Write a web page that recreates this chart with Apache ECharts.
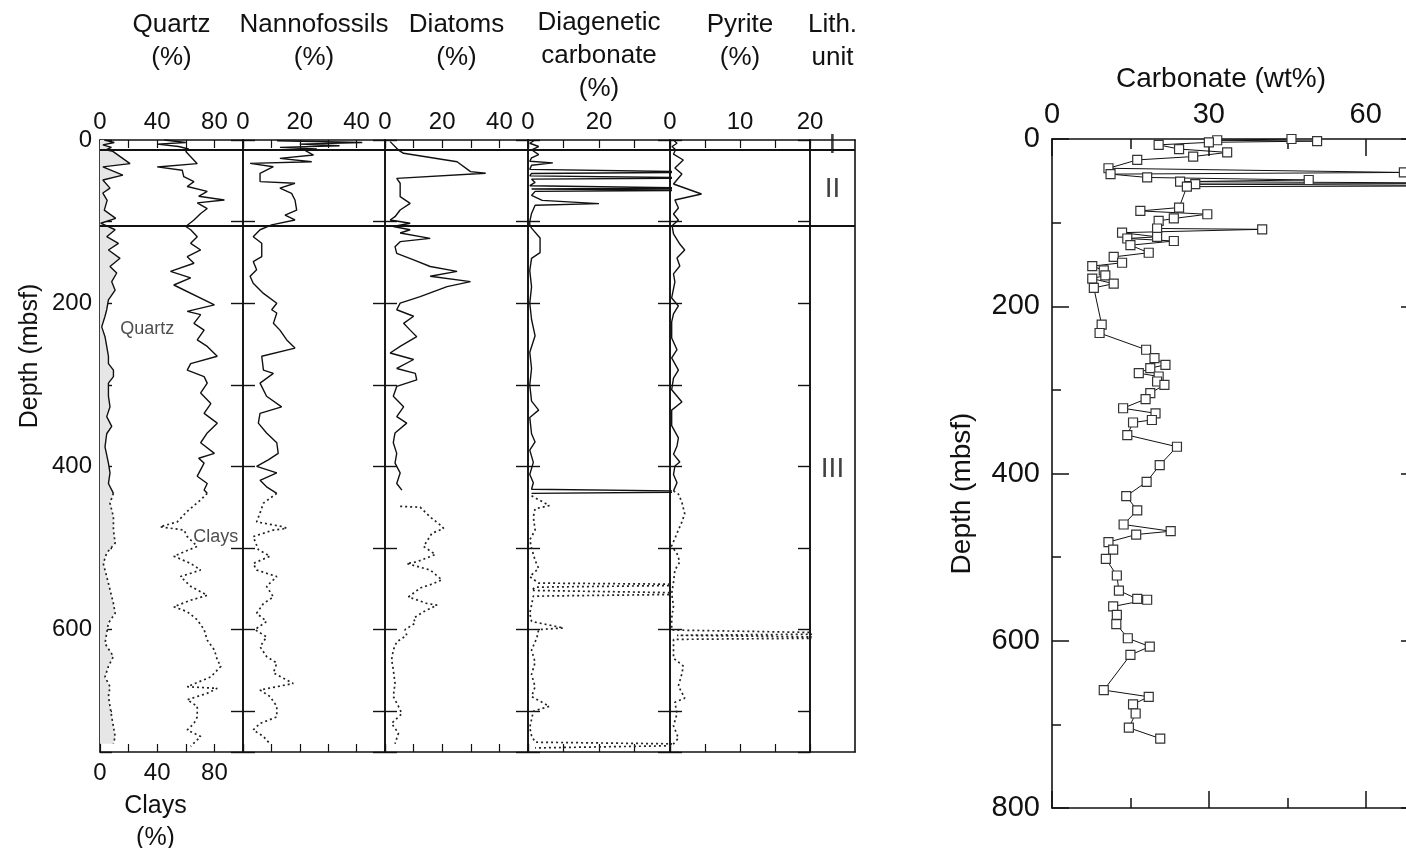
<!DOCTYPE html>
<html><head><meta charset="utf-8">
<script src="https://cdn.jsdelivr.net/npm/echarts@6/dist/echarts.min.js"></script>
<style>html,body{margin:0;padding:0;background:#fff}#c{width:1406px;height:848px}</style>
</head><body><div id="c"></div>
<script>
// ---------- DATA: [value, depth (mbsf)] ----------
const quartzSolid = [[3,0],[10,3],[2,6],[8,9],[4,12],[9,14],[21,29],[2,33],[16,43],[2,49],[7,59],[2,65],[5,74],[3,86],[11,96],[0.5,102],
 [10.6,110],[4.7,118.5],[12.9,126.6],[5.9,134.8],[14,145],[7,155],[11.7,163],[8.2,173.6],[10.6,184],[5.9,196],[4.7,208],[3.5,216],[1.2,229],[3.5,241],[4.7,253],[5.9,265],[5.9,274],[9.4,282],[9.4,290],[5.9,298],[5.9,314],[7,327],[4.7,339],[8.2,351],[4.7,360],[3.5,376],[5.9,396],[7,408],[5.9,421],[9.4,433]];
const quartzDotted = [[9.4,433],[7,445],[9.4,462],[9.4,478],[10.6,494],[4.7,506],[2.3,519],[4.7,535],[7,551],[9.4,568],[10.6,580],[5.9,592],[4.7,604],[3.5,617],[9.4,633],[5.9,645],[3.5,658],[7,670],[5.9,682],[7,694],[8.2,707],[9.4,719],[10.6,731],[9.4,740]];
const claysSolid = [[45,0],[60,3],[40,5],[55,8],[62,11],[60,14],[68,29],[40,33],[57.5,37],[58.6,45],[65.7,51],[61,57],[75,63],[69,69],[87,73.5],[68,77],[75,84],[70.4,90],[65.7,98],[60,106],
 [63.4,110],[68,118.5],[63.4,126.6],[70.4,134.8],[61,143],[65.7,151],[49.3,161],[63.4,169],[51.6,177.7],[80,202],[61,210],[70.4,214],[65.7,224.7],[72.8,233],[68,245],[75,253],[82,265],[63.4,274],[61,282],[72.8,290],[75,298],[70.4,310],[77.5,323],[72.8,335],[82,347],[75,359],[70.4,371],[80,384],[69,390],[72.8,396],[68,412],[75,421],[72.8,429],[75,433]];
const claysDotted = [[75,433],[70.4,441],[61,455],[54,468],[42,474],[58.7,478],[61,486],[68,498],[51.6,510],[63.4,519],[70.4,527],[56.3,535],[63.4,547],[75,558],[63.4,564],[51.6,572],[61,578],[68,588],[72.8,600],[75,613],[80,625],[82,637],[84.5,645],[77.5,658],[61,670],[82,672],[75,678],[61,686],[68,694],[68,707],[65.7,715],[61,723],[70.4,731],[63.4,743]];
const nannoSolid = [[12,1],[42,3],[20,5],[34,7],[13,9],[26,11],[22,13],[24.8,18.4],[13,22.5],[24.2,26.6],[2.5,28.6],[10.7,32.7],[6,40.8],[6,51],[18.3,53],[13,59],[17.1,65.4],[18.3,73.5],[18.9,86],[14.8,92],[18.3,98],[10.1,104],[10.7,106],
 [6,110],[3.6,118.5],[6.6,126.6],[6.6,143],[3.6,149],[4.8,159],[2.5,167],[3.6,175.6],[7.2,188],[11.9,200],[10.1,208],[11.9,212],[10.7,224.7],[13,233],[15.4,245],[18.3,255],[6.6,265],[7.2,282],[10.7,286],[6,298],[8.3,314],[13.6,327],[6,335],[5.4,347],[8.3,359],[11.9,371],[12.4,384],[8.9,392],[4.8,400],[11.9,408],[6,417],[8.3,425],[11.9,433]];
const nannoDotted = [[11.9,433],[7.2,445],[6,457],[4.8,468],[14.2,474],[15.4,476],[10.7,478],[3.6,486],[5.4,502],[9.5,510],[3.6,519],[4.8,527],[11.9,535],[8.3,547],[10.7,560],[7.2,568],[4.8,580],[8.3,590],[4.2,600],[8.3,609],[6,621],[8.3,633],[11.9,641],[10.7,653],[17.7,666],[6,674],[9.5,682],[11.9,694],[11.9,707],[6,715],[3.6,723],[7.2,731],[9.5,740]];
const diatomSolid = [[1.8,2],[4.7,12.3],[6.5,16.3],[25.2,26.6],[29.9,38.8],[35.2,40.8],[4.1,47],[5.3,53],[5.3,69.4],[8.8,77.6],[5.3,85.8],[3.5,94],[1.8,98],[8.8,102],[2.9,106],
 [8.8,110],[5.3,114],[15.8,120.5],[5.3,124.6],[3.5,130.7],[4.1,138.9],[10,147],[15.8,155],[25.2,161],[15.8,167],[29.9,173.6],[21.7,179.7],[12.3,192],[5.3,200],[4.1,208],[10,216],[6.5,224.7],[8.8,233],[11.1,241],[5.3,253],[1.8,261],[10,269],[4.1,280],[10.6,286],[11.1,294],[4.1,302],[2.9,314],[6.5,327],[4.1,339],[7.6,347],[3.5,359],[2.9,371],[4.1,384],[3.5,396],[5.3,408],[4.1,421],[5.9,429]];
const diatomDotted = [[5.3,449],[12.3,450],[15.8,462],[19.4,472],[20.5,476],[16.4,482],[13.5,498],[17.6,508],[11.1,517],[7.6,519],[15.8,527],[19.9,539],[15.8,545],[12.3,549],[8.2,560],[14.7,568],[18.2,570],[13.5,578],[10,586],[10.6,592],[7,600],[7.6,607],[4.1,615],[2.9,625],[2.3,637],[2.9,649],[3.5,666],[2.9,682],[4.7,694],[5.9,703],[2.3,715],[4.7,727],[3.5,740]];
const diagSolid = [[2,0],[0.5,4],[3,8],[1,12],[0.5,14],[3,18],[1,22],[0.5,26],[7,28],[1,31],[0.5,36],[1,38],[55,39.5],[1,41],[0.5,44],[50,46.5],[1,48],[2,52],[0.5,56],[50,59],[1,60],[55,61.5],[2,63],[1,68],[4,74],[20,78],[2,80],[1,90],[0.5,100],[0.5,104],
 [1,108],[3.4,120],[3.4,138],[1,145],[0.5,160],[1,180],[0.5,200],[1,220],[2,240],[0.5,260],[1,280],[0.5,300],[1,320],[3,331],[0.5,340],[1,360],[2,370],[0.5,380],[1.5,395],[0.5,410],[1.5,420],[1,428],[60,431],[1,433]];
const diagDotted = [[1,436],[6,448],[2,452],[1.5,462],[2,478],[0.5,490],[1,500],[2,515],[3,525],[0.5,535],[3,543],[60,545],[2,548],[1,552],[60,556],[1.5,559],[1,570],[0.5,580],[1,590],[10,598],[3,600],[2.5,610],[1,625],[2,640],[1,655],[2,670],[1,682],[6,694],[1.5,700],[1,710],[0.5,720],[1,730],[2,738],[60,741],[2,745]];
const pyriteSolid = [[0.5,0],[1,4],[0.3,8],[0.8,12],[0.5,17.2],[1.9,24.5],[0.7,34.3],[1.7,41.7],[0.5,53.9],[4.5,66.2],[0.7,73.5],[1.2,83.3],[0.5,90.7],[1.2,98],[0.3,105],
 [0.5,115],[1.4,127.5],[2.1,134.8],[1,144.6],[1.4,154.4],[0.5,164],[0.7,174],[0.24,193.6],[1.2,203.4],[0.5,213],[0.24,223],[0.24,242.6],[1,257],[0.24,267],[1.2,282],[0.5,291.7],[0.24,306],[1.7,321],[0.24,331],[0.24,350],[1.2,365],[1,375],[0.5,385],[1.4,394.6],[0.7,399.5],[0.5,410],[1,420],[0.5,430]];
const pyriteDotted = [[0.5,430],[1.2,434],[1.7,444],[2.1,458],[1.7,468],[1.2,478],[0.24,497.5],[1,507],[1.4,517],[0.7,527],[0.5,541.7],[0.24,556],[0.5,571],[0.24,586],[0.24,600.5],[30,605],[1,607],[30,610],[0.5,612],[0.5,635],[1.9,644.6],[1.7,654],[1.2,669],[2.1,684],[0.7,689],[1,703],[0.5,718],[1.2,733],[0.24,742.6]];
const carbonate = [[45.8,0],[31.6,1.5],[50.7,2.5],[30,4],[20.4,7],[24.3,12],[33.5,16],[27,21],[16.3,25],[10.8,35],[67.3,40],[11.2,42],[18.2,46],[49.1,49],[24.5,51],[90,53],[27.4,54],[90,56],[25.8,57],
 [24.3,82],[16.9,86],[29.7,90],[23.3,95],[20.4,98],[20.1,107],[40.2,108],[13.4,112],[20.1,117],[14.4,119],[23.3,122],[15,127],[18.5,136],[11.8,141],[13.4,148],[7.7,152],[9.9,157],[10.2,163],[7.7,167],[11.8,173],[8,178],[9.5,222],[9.1,232],
 [18,252],[19.6,262],[21.7,270],[18.8,274],[16.6,280],[20.4,284],[20.1,290],[21.5,294],[18.8,304],[17.9,311],[13.6,322],[19.8,328],[19.1,336],[15.5,339],[14.4,354],[23.9,368],[20.6,390],[18.1,410],[14.2,427],[16.3,444],[13.7,461],[22.7,469],[16.1,473],[10.8,482],[11.7,491],[10.3,502],[12.4,522],[12.8,540],[16.3,550],[18.2,551],[11.7,559],[12.4,569],[12.3,580],[14.5,597],[18.7,607],[15,617],[9.9,659],[18.5,667],[15.5,676],[16,687],[14.7,704],[20.7,717]];
const unitBoundaries = [12, 105];
const lithUnits = [[0.5, 6, 'I'], [0.5, 61, 'II'], [0.5, 404, 'III']];
const curveLabels = [[33, 232, 'Quartz'], [81, 486, 'Clays']];
const panelNames = ['Quartz\n(%)', 'Nannofossils\n(%)', 'Diatoms\n(%)', 'Diagenetic\ncarbonate\n(%)', 'Pyrite\n(%)', 'Lith.\nunit'];
const panelMax = [100, 50, 50, 40, 20, 1];
const panelStep = [20, 10, 10, 10, 5, 1];
const panelTickLabels = [[0,40,80],[0,20,40],[0,20,40],[0,20],[0,10,20],[]];
const clayTickLabels = [0,40,80];
const depthTickLabels = [0,200,400,600];
const carbTickLabels = [0,30,60];
const carbDepthLabels = [0,200,400,600,800];

// ---------- LAYOUT ----------
const FONT = '"Liberation Sans", Arial, sans-serif';
const INK = '#111';
const lefts = [100, 243, 385, 528, 670, 810];
const widths = [143, 142, 143, 142, 140, 45];
const nameGaps = [66, 66, 66, 35, 66, 66];
const TOP = 140, H = 612;

const grid = [], xAxis = [], yAxis = [], series = [];
const axLine = {show:true, onZero:false, lineStyle:{color:INK, width:1.6}};
const noLine = {show:false, onZero:false};
for (let i = 0; i < 6; i++) {
  grid.push({left: lefts[i], top: TOP, width: widths[i], height: H, outerBoundsMode:'none'});
  const ticks = i < 5;
  xAxis.push({type:'value', gridIndex:i, position:'top', min:0, max:panelMax[i], interval:panelStep[i],
    name: panelNames[i], nameLocation:'middle', nameGap: nameGaps[i],
    nameTextStyle:{fontFamily:FONT, fontSize:26, lineHeight:33, color:INK},
    axisLine: axLine, splitLine:{show:false},
    axisTick:{show:ticks, inside:true, length:8, lineStyle:{color:INK, width:1.2}},
    axisLabel:{show:ticks, margin:6, fontFamily:FONT, fontSize:24, color:INK,
      formatter: v => panelTickLabels[i].includes(v) ? String(v) : ''}});
  xAxis.push({type:'value', gridIndex:i, position:'bottom', min:0, max:panelMax[i], interval:panelStep[i],
    name: i === 0 ? 'Clays\n(%)' : '', nameLocation:'middle', nameGap:28,
    nameTextStyle:{fontFamily:FONT, fontSize:25, lineHeight:32, color:INK, padding:[0,32,0,0]},
    axisLine: axLine, splitLine:{show:false},
    axisTick:{show:ticks, inside:true, length:8, lineStyle:{color:INK, width:1.2}},
    axisLabel:{show:i === 0, margin:9, fontFamily:FONT, fontSize:24, color:INK,
      formatter: v => clayTickLabels.includes(v) ? String(v) : ''}});
  yAxis.push({type:'value', gridIndex:i, position:'left', inverse:true, min:0, max:750, interval:100,
    name: i === 0 ? 'Depth (mbsf)' : '', nameLocation:'middle', nameGap:57, nameRotate:90,
    nameTextStyle:{fontFamily:FONT, fontSize:25, color:INK, padding:[0,0,0,180]},
    axisLine: axLine, splitLine:{show:false},
    axisTick:{show:ticks, inside:true, length:12, lineStyle:{color:INK, width:1.4}},
    axisLabel:{show:i === 0, margin:8, fontFamily:FONT, fontSize:24, color:INK,
      formatter: v => depthTickLabels.includes(v) ? String(v) : ''}});
  yAxis.push({type:'value', gridIndex:i, position:'right', inverse:true, min:0, max:750, interval:100,
    axisLine: axLine, splitLine:{show:false},
    axisTick:{show:ticks, inside:true, length:12, lineStyle:{color:INK, width:1.4}},
    axisLabel:{show:false}});
}

function curve(data, i, dotted) {
  return {type:'line', xAxisIndex:2*i, yAxisIndex:2*i, data: data, symbol:'none', showSymbol:false,
    clip:true, z:3, silent:true,
    lineStyle:{color: dotted ? '#222' : INK, width: dotted ? 1.7 : 1.4, type: dotted ? [2,3] : 'solid'}};
}
function boundaries() {
  return {silent:true, symbol:'none', label:{show:false},
    lineStyle:{color:INK, width:1.8, type:'solid'},
    data: unitBoundaries.map(d => ({yAxis:d}))};
}

// quartz fill
series.push({type:'custom', xAxisIndex:0, yAxisIndex:0, data:[[0,0]], z:1, silent:true,
  renderItem: (params, api) => {
    const all = quartzSolid.concat(quartzDotted);
    const pts = [api.coord([0, all[0][1]])];
    all.forEach(p => pts.push(api.coord(p)));
    pts.push(api.coord([0, all[all.length-1][1]]));
    return {type:'polygon', shape:{points:pts}, style:{fill:'#e6e6e6'}};
  }});
const s0 = curve(quartzSolid, 0, false); s0.markLine = boundaries(); series.push(s0);
series.push(curve(quartzDotted, 0, true), curve(claysSolid, 0, false), curve(claysDotted, 0, true));
series.push({type:'scatter', xAxisIndex:0, yAxisIndex:0, data: curveLabels, symbolSize:1,
  itemStyle:{color:'rgba(0,0,0,0)'}, silent:true, z:5,
  label:{show:true, position:'inside', formatter: p => p.value[2], fontFamily:FONT, fontSize:18, color:'#222'}});
const pairs = [[nannoSolid, nannoDotted],[diatomSolid, diatomDotted],[diagSolid, diagDotted],[pyriteSolid, pyriteDotted]];
pairs.forEach((pr, k) => {
  const i = k + 1;
  const a = curve(pr[0], i, false); a.markLine = boundaries();
  series.push(a, curve(pr[1], i, true));
});
series.push({type:'scatter', xAxisIndex:10, yAxisIndex:10, data: lithUnits, symbolSize:1,
  itemStyle:{color:'rgba(0,0,0,0)'}, silent:true, markLine: boundaries(),
  label:{show:true, position:'inside', formatter: p => p.value[2], fontFamily:FONT, fontSize:28, color:INK}});

// ---------- carbonate panel ----------
grid.push({left:1052, top:139, width:366, height:669, outerBoundsMode:'none'});
const G = 6, CF = 29;
xAxis.push({type:'value', gridIndex:G, position:'top', min:0, max:70, interval:30,
  name:'Carbonate (wt%)', nameLocation:'middle', nameGap:46,
  nameTextStyle:{fontFamily:FONT, fontSize:28, color:INK, padding:[0,28,0,0]},
  axisLine: axLine, splitLine:{show:false},
  axisTick:{inside:true, length:17, lineStyle:{color:INK, width:1.5}},
  axisLabel:{margin:10, fontFamily:FONT, fontSize:CF, color:INK, formatter: v => carbTickLabels.includes(v) ? String(v) : ''}});
xAxis.push({type:'value', gridIndex:G, position:'top', min:0, max:70, interval:15,
  axisLine:noLine, splitLine:{show:false}, axisLabel:{show:false},
  axisTick:{inside:true, length:10, lineStyle:{color:INK, width:1.5}}});
xAxis.push({type:'value', gridIndex:G, position:'bottom', min:0, max:70, interval:30,
  axisLine: axLine, splitLine:{show:false}, axisLabel:{show:false},
  axisTick:{inside:true, length:17, lineStyle:{color:INK, width:1.5}}});
xAxis.push({type:'value', gridIndex:G, position:'bottom', min:0, max:70, interval:15,
  axisLine:noLine, splitLine:{show:false}, axisLabel:{show:false},
  axisTick:{inside:true, length:10, lineStyle:{color:INK, width:1.5}}});
yAxis.push({type:'value', gridIndex:G, position:'left', inverse:true, min:0, max:800, interval:200,
  name:'Depth (mbsf)', nameLocation:'middle', nameGap:76, nameRotate:90,
  nameTextStyle:{fontFamily:FONT, fontSize:28, color:INK, padding:[0,40,0,0]},
  axisLine: axLine, splitLine:{show:false},
  axisTick:{inside:true, length:17, lineStyle:{color:INK, width:1.5}},
  axisLabel:{margin:12, fontFamily:FONT, fontSize:CF, color:INK, formatter: v => carbDepthLabels.includes(v) ? String(v) : ''}});
yAxis.push({type:'value', gridIndex:G, position:'left', inverse:true, min:0, max:800, interval:100,
  axisLine:noLine, splitLine:{show:false}, axisLabel:{show:false},
  axisTick:{inside:true, length:9, lineStyle:{color:INK, width:1.5}}});
yAxis.push({type:'value', gridIndex:G, position:'right', inverse:true, min:0, max:800, interval:200,
  axisLine: axLine, splitLine:{show:false}, axisLabel:{show:false},
  axisTick:{inside:true, length:17, lineStyle:{color:INK, width:1.5}}});
series.push({type:'line', xAxisIndex:12, yAxisIndex:12, data: carbonate, clip:true, z:3,
  symbol:'rect', symbolSize:9, showSymbol:true, showAllSymbol:true,
  lineStyle:{color:INK, width:1},
  itemStyle:{color:'#fff', borderColor:'#333', borderWidth:1.2}});

const chart = echarts.init(document.getElementById('c'), null, {renderer:'canvas'});
chart.setOption({animation:false, backgroundColor:'#fff', grid, xAxis, yAxis, series});
</script></body></html>
